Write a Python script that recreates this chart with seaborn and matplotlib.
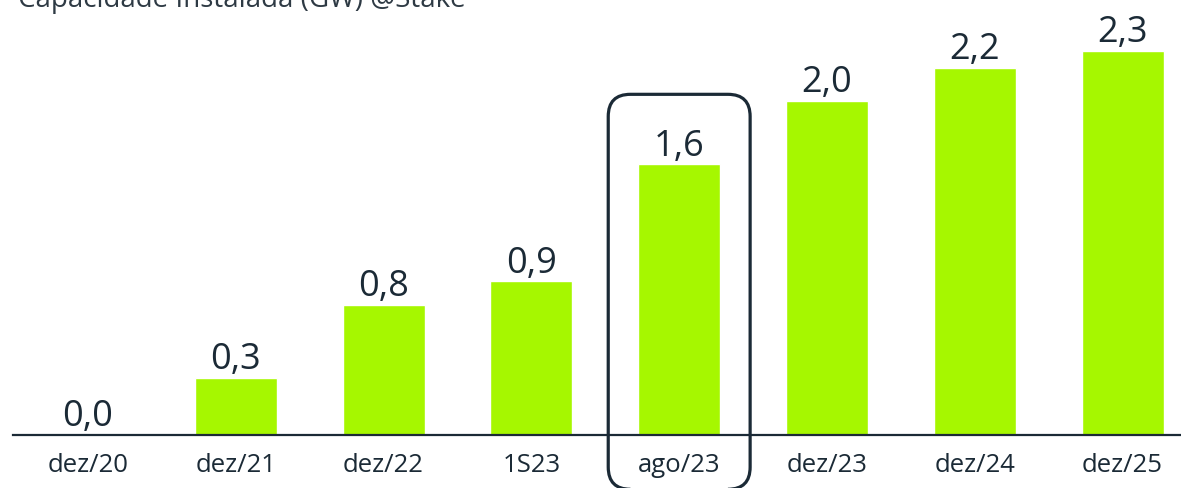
import pandas as pd
import matplotlib.pyplot as plt
import seaborn as sns
from matplotlib.patches import FancyBboxPatch

# data
periods = ['dez/20', 'dez/21', 'dez/22', '1S23', 'ago/23', 'dez/23', 'dez/24', 'dez/25']
capacity_gw = [0.0, 0.34, 0.78, 0.92, 1.62, 2.0, 2.2, 2.3]
value_labels = ['0,0', '0,3', '0,8', '0,9', '1,6', '2,0', '2,2', '2,3']
highlight = 'ago/23'
title = 'Capacidade Instalada (GW) @Stake'

df = pd.DataFrame({'period': periods, 'gw': capacity_gw})

sns.set_theme(style='white')
plt.rcParams['font.family'] = ['Open Sans', 'DejaVu Sans']

dark = '#1b2a36'
lime = '#a6f700'

fig = plt.figure(figsize=(11.81, 4.89), dpi=100)
ax = fig.add_axes([13/1181, 53/489, 1168/1181, 436/489])

sns.barplot(data=df, x='period', y='gw', color=lime, width=0.555,
            saturation=1, ax=ax)

for i, (v, lab) in enumerate(zip(capacity_gw, value_labels)):
    ax.annotate(lab, (i, v), xytext=(0, 7), textcoords='offset points',
                ha='center', va='baseline', fontsize=26, color=dark)

ax.set_xlim(-0.507, 7.395)
ax.set_ylim(0, 436/167)
ax.set_xlabel('')
ax.set_ylabel('')
ax.set_yticks([])
ax.tick_params(axis='x', length=0, pad=12, labelsize=18.5, labelcolor=dark)
for s in ['top', 'left', 'right']:
    ax.spines[s].set_visible(False)
ax.spines['bottom'].set_color(dark)
ax.spines['bottom'].set_linewidth(1.6)

# highlight box around the current period
hi = periods.index(highlight)
box = FancyBboxPatch((hi - 0.48, -0.325), 0.96, 0.325 + 2.04,
                     boxstyle='round,pad=0,rounding_size=0.15',
                     mutation_aspect=0.885, fill=False, edgecolor=dark,
                     linewidth=2.3, clip_on=False, zorder=5)
ax.add_patch(box)

fig.text(18/1181, 1 - 7/489, title, ha='left', va='baseline',
         fontsize=20, color='#2e3a44')

fig.savefig('out.png', dpi=100, facecolor='white')
